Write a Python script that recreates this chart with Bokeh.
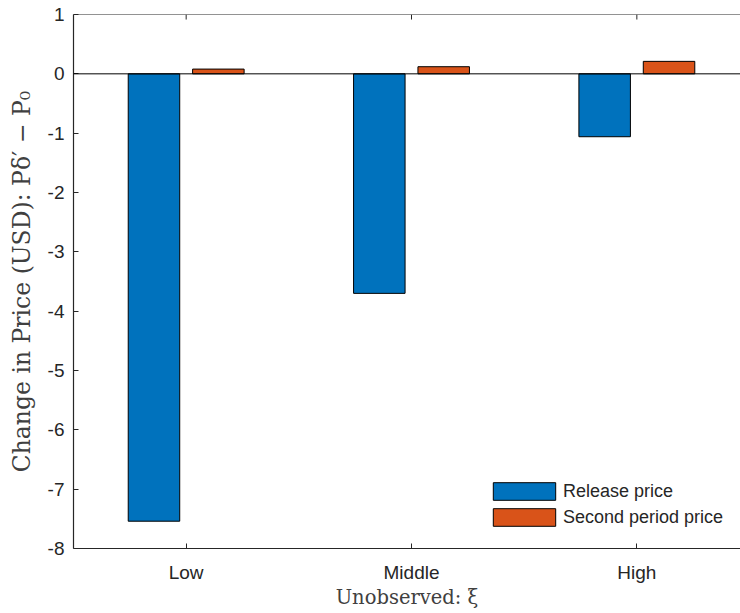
from bokeh.plotting import figure
from bokeh.models import Range1d, FixedTicker, Span, Legend, LegendItem, ColumnDataSource
from bokeh.embed import file_html
from bokeh.resources import INLINE

# ---- data ----
categories = ["Low", "Middle", "High"]
release_price = [-7.54, -3.70, -1.06]
second_period_price = [0.08, 0.12, 0.21]
series_names = ["Release price", "Second period price"]
y_ticks = [1, 0, -1, -2, -3, -4, -5, -6, -7, -8]
y_tick_labels = ["1", "0", "-1", "-2", "-3", "-4", "-5", "-6", "-7", "-8"]

BLUE = "#0072BD"
ORANGE = "#D95319"
AXC = "#262626"

xpos = list(range(1, len(categories) + 1))
group_w = min(0.8, 2 / (2 + 1.5))
bar_w = 0.8 * group_w / 2
off = group_w / 4

src = ColumnDataSource(dict(
    x1=[x - off for x in xpos], x2=[x + off for x in xpos],
    r=release_price, s=second_period_price))

p = figure(width=740, height=613, output_backend="svg", toolbar_location=None,
           x_range=Range1d(0.5, 3.46), y_range=Range1d(-8, 1),
           min_border_left=73, min_border_right=0, min_border_top=14, min_border_bottom=65)
p.outline_line_color = None
p.xgrid.visible = False
p.ygrid.visible = False
p.background_fill_color = "white"
p.border_fill_color = "white"

r1 = p.vbar(x="x1", top="r", bottom=0, width=bar_w, source=src,
            fill_color=BLUE, line_color="black", line_width=1)
r2 = p.vbar(x="x2", top="s", bottom=0, width=bar_w, source=src,
            fill_color=ORANGE, line_color="black", line_width=1)

# zero baseline and top box edge
p.add_layout(Span(location=0, dimension="width", line_color="black", line_width=1))
p.add_layout(Span(location=y_ticks[0], dimension="width", line_color=AXC, line_width=1.2))
# inward tick marks on the top edge
p.segment(x0=xpos, x1=xpos, y0=[y_ticks[0]] * 3, y1=[y_ticks[0] - 0.085] * 3,
          line_color=AXC, line_width=1)

p.xaxis.ticker = FixedTicker(ticks=xpos)
p.xaxis.major_label_overrides = {x: c for x, c in zip(xpos, categories)}
p.yaxis.ticker = FixedTicker(ticks=y_ticks)
p.yaxis.major_label_overrides = {t: l for t, l in zip(y_ticks, y_tick_labels)}

for ax in (p.xaxis[0], p.yaxis[0]):
    ax.axis_line_color = AXC
    ax.axis_line_width = 1.2
    ax.major_tick_line_color = AXC
    ax.major_tick_in = 5
    ax.major_tick_out = 0
    ax.minor_tick_line_color = None
    ax.major_label_text_font = "Liberation Sans"
    ax.major_label_text_font_size = "19px"
    ax.major_label_text_color = AXC
    ax.axis_label_text_font = "DejaVu Serif"
    ax.axis_label_text_font_style = "normal"
    ax.axis_label_text_color = "#404040"

p.xaxis.axis_label_text_font_size = "19.5px"
p.yaxis.axis_label_text_font_size = "23.5px"
p.xaxis.major_label_standoff = 13
p.xaxis.axis_label_standoff = 0
p.xaxis.axis_label = "Unobserved: ξ"
p.yaxis.major_label_standoff = 9
p.yaxis.axis_label_standoff = 9
p.yaxis.axis_label = "Change in Price (USD): Pδ′ − P₀"

legend = Legend(items=[LegendItem(label=series_names[0], renderers=[r1]),
                       LegendItem(label=series_names[1], renderers=[r2])],
                location=(412, 20), padding=0, margin=0, spacing=4,
                glyph_width=78, glyph_height=22, label_height=22, label_standoff=0,
                label_text_font="Liberation Sans", label_text_font_size="18px",
                label_text_color=AXC, border_line_color=None, background_fill_alpha=0)
p.add_layout(legend, "center")

open("out.html", "w").write(file_html(p, INLINE))
